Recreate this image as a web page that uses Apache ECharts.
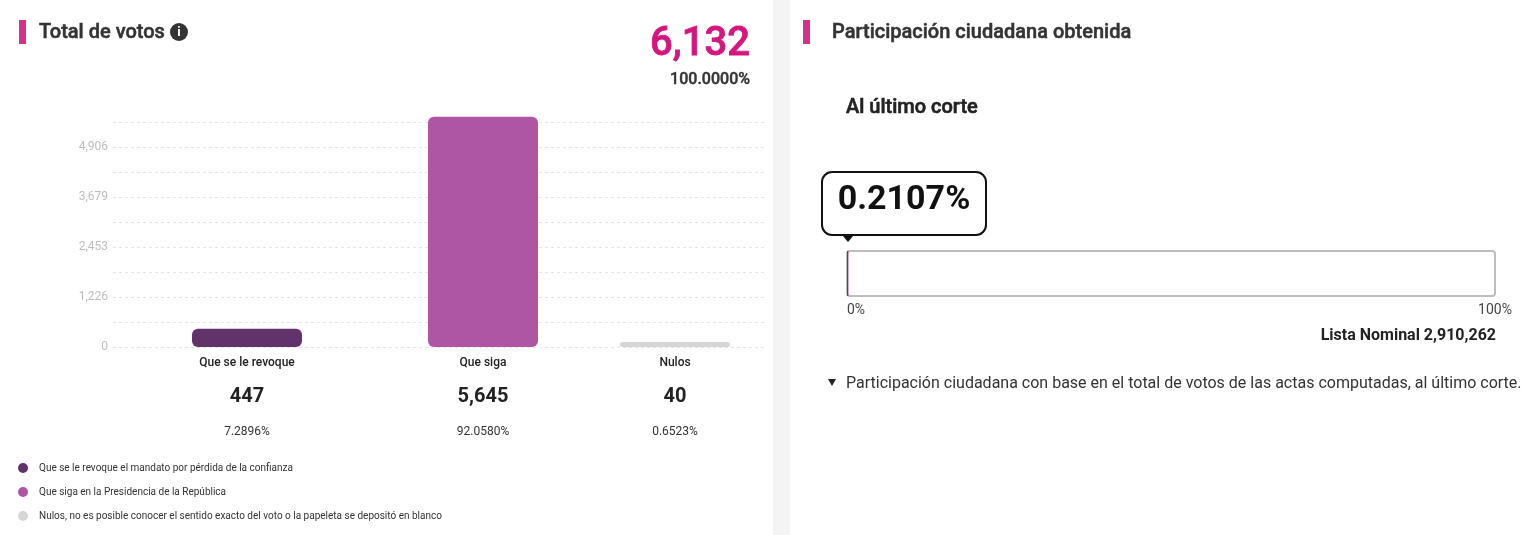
<!DOCTYPE html>
<html>
<head>
<meta charset="utf-8">
<script src="https://cdn.jsdelivr.net/npm/echarts@6/dist/echarts.min.js"></script>
<style>
html, body { margin: 0; padding: 0; background: #fff; }
#main { width: 1524px; height: 535px; }
</style>
</head>
<body>
<div id="main"></div>
<script>
// datos
var categories = ['Que se le revoque', 'Que siga', 'Nulos'];
var legendNames = [
    'Que se le revoque el mandato por pérdida de la confianza',
    'Que siga en la Presidencia de la República',
    'Nulos, no es posible conocer el sentido exacto del voto o la papeleta se depositó en blanco'
];
var votes = [447, 5645, 40];
var barColors = ['#62326a', '#ae55a4', '#d6d6d6'];
var yTickLabels = [0, 1226, 2453, 3679, 4906];
var listaNominal = 2910262;

var total = votes.reduce(function (a, b) { return a + b; }, 0);
var participacion = total / listaNominal * 100;
function fmt(n) { return n.toLocaleString('en-US'); }
// el sitio trunca a 4 decimales
function trunc4(x) { return (Math.floor(x * 10000 + 1e-6) / 10000).toFixed(4) + '%'; }
function pct(v) { return trunc4(v / total * 100); }

var FONT = 'Roboto, sans-serif';
var barCenters = [247, 483, 675];
var plotTop = 97, plotH = 250;

var myChart = echarts.init(document.getElementById('main'));

var grids = [{ left: 113, top: plotTop, width: 654, height: plotH }];
var xAxes = [{ gridIndex: 0, type: 'category', data: [''], show: false }];
var yAxes = [{
    gridIndex: 0,
    type: 'value',
    min: 0,
    max: total,
    interval: total / 10,
    axisLine: { show: false },
    axisTick: { show: false },
    splitLine: {
        show: true,
        showMaxLine: false,
        lineStyle: { color: '#e3e3e3', type: [3, 3], width: 1 }
    },
    axisLabel: {
        margin: 5,
        color: '#bdbdbd',
        fontSize: 12,
        fontFamily: FONT,
        showMaxLabel: false,
        formatter: function (value, index) {
            if (index % 2 === 0 && yTickLabels[index / 2] != null) {
                return fmt(yTickLabels[index / 2]);
            }
            return '';
        }
    }
}];
var series = [];

categories.forEach(function (name, i) {
    grids.push({ left: barCenters[i] - 100, top: plotTop, width: 200, height: plotH });
    xAxes.push({
        gridIndex: i + 1,
        type: 'category',
        data: [name],
        axisLine: { show: false },
        axisTick: { show: false },
        axisLabel: {
            interval: 0,
            margin: 8,
            formatter: function (v) {
                return '{n|' + v + '}\n{v|' + fmt(votes[i]) + '}\n{p|' + pct(votes[i]) + '}';
            },
            rich: {
                n: { fontSize: 12, fontWeight: 500, color: '#222', fontFamily: FONT, lineHeight: 16 },
                v: { fontSize: 20, fontWeight: 'bold', color: '#222', fontFamily: FONT, lineHeight: 52 },
                p: { fontSize: 12, color: '#333', fontFamily: FONT, lineHeight: 18 }
            }
        }
    });
    yAxes.push({ gridIndex: i + 1, type: 'value', min: 0, max: total, show: false });
    series.push({
        type: 'bar',
        name: legendNames[i],
        xAxisIndex: i + 1,
        yAxisIndex: i + 1,
        data: [votes[i]],
        barWidth: 110,
        barMinHeight: 5,
        silent: true,
        itemStyle: { color: barColors[i], borderRadius: 6 }
    });
});

// barra de participación
grids.push({ left: 847, top: 250, width: 648, height: 47 });
xAxes.push({
    gridIndex: 4,
    type: 'value',
    min: 0,
    max: 100,
    interval: 100,
    splitLine: { show: false },
    axisLine: { show: false },
    axisTick: { show: false },
    axisLabel: {
        margin: 6,
        fontSize: 14,
        color: '#444',
        fontFamily: FONT,
        formatter: '{value}%',
        alignMinLabel: 'left',
        alignMaxLabel: 'center'
    }
});
yAxes.push({ gridIndex: 4, type: 'category', data: [''], show: false });
series.push({
    type: 'bar',
    xAxisIndex: 4,
    yAxisIndex: 4,
    data: [participacion],
    barWidth: 45,
    silent: true,
    showBackground: true,
    backgroundStyle: { color: '#fff', borderColor: '#bdbdbd', borderWidth: 2, borderRadius: 3 },
    itemStyle: { color: '#a3196d' }
});

var option = {
    animation: false,
    backgroundColor: '#fff',
    grid: grids,
    xAxis: xAxes,
    yAxis: yAxes,
    series: series,
    legend: {
        orient: 'vertical',
        left: 13,
        top: 458,
        itemWidth: 10,
        itemHeight: 10,
        itemGap: 14,
        icon: 'circle',
        selectedMode: false,
        data: legendNames,
        textStyle: { fontSize: 10, color: '#333', fontFamily: FONT, padding: [0, 0, 0, 6] }
    },
    graphic: [
        { type: 'rect', shape: { x: 773, y: 0, width: 17, height: 535 }, style: { fill: '#f4f4f4' } },
        { type: 'rect', shape: { x: 19, y: 20, width: 7, height: 24 }, style: { fill: '#d5318a' } },
        { type: 'rect', shape: { x: 803, y: 20, width: 7, height: 24 }, style: { fill: '#d5318a' } },
        { type: 'text', x: 39, y: 33, style: { text: 'Total de votos', font: '500 20px Roboto', fill: '#333', stroke: '#333', lineWidth: 0.5, verticalAlign: 'middle' } },
        { type: 'circle', shape: { cx: 179, cy: 32, r: 9 }, style: { fill: '#333' } },
        { type: 'text', x: 179, y: 33, style: { text: 'i', font: 'bold 13px Roboto', fill: '#fff', align: 'center', verticalAlign: 'middle' } },
        { type: 'text', x: 750, y: 45, style: { text: fmt(total), font: '500 40px Roboto', fill: '#d3177f', stroke: '#d3177f', lineWidth: 0.8, align: 'right', verticalAlign: 'middle' } },
        { type: 'text', x: 750, y: 80, style: { text: trunc4(100), font: '500 16px Roboto', fill: '#333', stroke: '#333', lineWidth: 0.4, align: 'right', verticalAlign: 'middle' } },
        { type: 'text', x: 832, y: 33, style: { text: 'Participación ciudadana obtenida', font: '500 20px Roboto', fill: '#333', stroke: '#333', lineWidth: 0.5, verticalAlign: 'middle' } },
        { type: 'text', x: 846, y: 108, style: { text: 'Al último corte', font: '500 20px Roboto', fill: '#222', stroke: '#222', lineWidth: 0.6, verticalAlign: 'middle' } },
        { type: 'rect', shape: { x: 822, y: 172, width: 164, height: 63, r: 10 }, style: { fill: '#fff', stroke: '#111', lineWidth: 2 } },
        { type: 'polygon', shape: { points: [[843, 236], [853, 236], [848, 242]] }, style: { fill: '#111' } },
        { type: 'text', x: 904, y: 200, style: { text: trunc4(participacion), font: 'bold 34px Roboto', fill: '#111', align: 'center', verticalAlign: 'middle' } },
        { type: 'text', x: 1496, y: 336, style: { text: 'Lista Nominal ' + fmt(listaNominal), font: 'bold 16px Roboto', fill: '#222', align: 'right', verticalAlign: 'middle' } },
        { type: 'polygon', shape: { points: [[828, 379], [836, 379], [832, 386]] }, style: { fill: '#222' } },
        { type: 'text', x: 846, y: 384, style: { text: 'Participación ciudadana con base en el total de votos de las actas computadas, al último corte.', font: '16px Roboto', fill: '#333', verticalAlign: 'middle' } }
    ]
};

myChart.setOption(option);
</script>
</body>
</html>
